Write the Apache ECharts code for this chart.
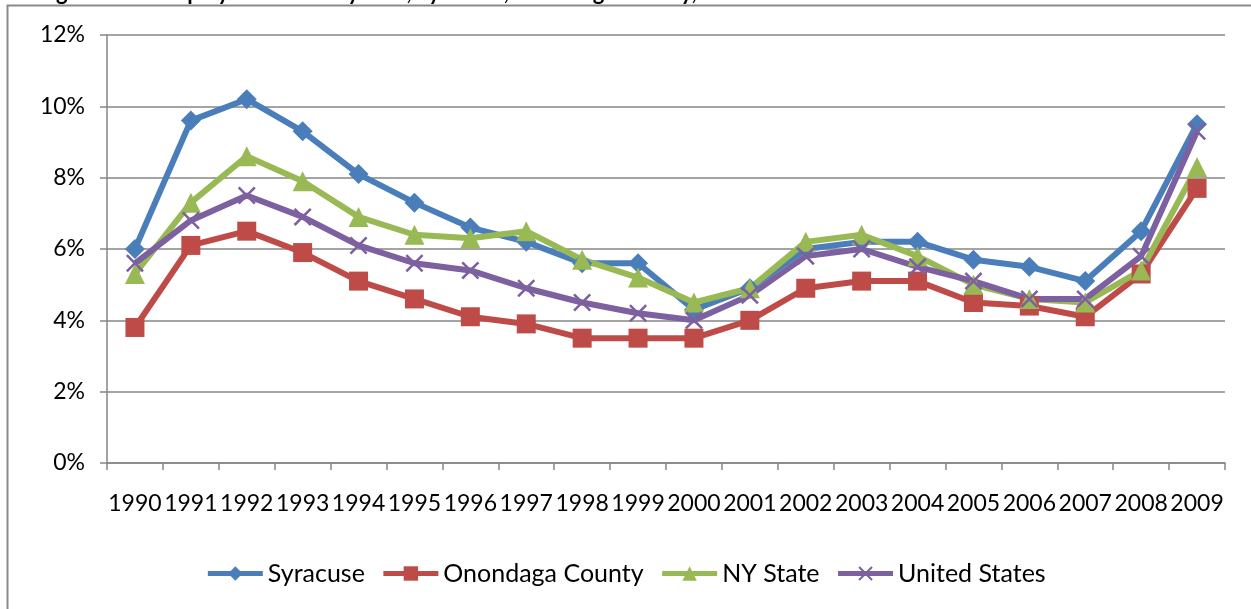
<!DOCTYPE html>
<html>
<head>
<meta charset="utf-8">
<script src="https://cdn.jsdelivr.net/npm/echarts@6/dist/echarts.min.js"></script>
<style>
  html, body { margin: 0; padding: 0; background: #fff; }
  #chart { width: 1251px; height: 609px; }
</style>
</head>
<body>
<div id="chart"></div>
<script>
// Annual unemployment rates (%), 1990-2009
const years = ['1990','1991','1992','1993','1994','1995','1996','1997','1998','1999',
               '2000','2001','2002','2003','2004','2005','2006','2007','2008','2009'];
const syracuse = [6.0, 9.6, 10.2, 9.3, 8.1, 7.3, 6.6, 6.2, 5.6, 5.6,
                  4.3, 4.9, 6.0, 6.2, 6.2, 5.7, 5.5, 5.1, 6.5, 9.5];
const onondaga = [3.8, 6.1, 6.5, 5.9, 5.1, 4.6, 4.1, 3.9, 3.5, 3.5,
                  3.5, 4.0, 4.9, 5.1, 5.1, 4.5, 4.4, 4.1, 5.3, 7.7];
const nyState  = [5.3, 7.3, 8.6, 7.9, 6.9, 6.4, 6.3, 6.5, 5.7, 5.2,
                  4.5, 4.9, 6.2, 6.4, 5.8, 5.0, 4.6, 4.5, 5.4, 8.3];
const unitedStates = [5.6, 6.8, 7.5, 6.9, 6.1, 5.6, 5.4, 4.9, 4.5, 4.2,
                      4.0, 4.7, 5.8, 6.0, 5.5, 5.1, 4.6, 4.6, 5.8, 9.3];
const yTicks = [0, 2, 4, 6, 8, 10, 12];

const FONT = 'Lato, Carlito, "Open Sans", sans-serif';
const crossPath = 'path://M2,0L10,8L18,0L20,2L12,10L20,18L18,20L10,12L2,20L0,18L8,10L0,2Z';

function lineSeries(name, data, color, symbol, size) {
  return {
    name: name,
    type: 'line',
    data: data,
    symbol: symbol,
    symbolSize: size,
    showAllSymbol: true,
    lineStyle: { color: color, width: 6 },
    itemStyle: { color: color },
    emphasis: { disabled: true },
    z: 2
  };
}

const chart = echarts.init(document.getElementById('chart'), null, { renderer: 'canvas' });
chart.setOption({
  animation: false,
  backgroundColor: '#ffffff',
  textStyle: { fontFamily: FONT },
  graphic: [
    {
      type: 'rect',
      shape: { x: 7.5, y: 5.5, width: 1300, height: 700 },
      style: { fill: 'none', stroke: '#8a8a8a', lineWidth: 2 },
      silent: true, z: -1
    },
    {
      type: 'text',
      style: {
        x: 38, y: 4,
        text: 'Figure 2: Unemployment Rate by Year, Syracuse, Onondaga County, NY State and US',
        font: 'bold 22px ' + FONT,
        fill: '#000',
        verticalAlign: 'bottom'
      },
      silent: true
    }
  ],
  grid: { left: 107, right: 26, top: 35, bottom: 146, containLabel: false },
  legend: {
    data: ['Syracuse', 'Onondaga County', 'NY State', 'United States'],
    left: 'center',
    top: 556,
    itemWidth: 55,
    itemHeight: 18,
    itemGap: 16,
    lineStyle: { width: 5 },
    textStyle: { fontFamily: FONT, fontSize: 25, color: '#000' }
  },
  xAxis: {
    type: 'category',
    data: years,
    boundaryGap: true,
    axisLine: { lineStyle: { color: '#868686', width: 1.5 } },
    axisTick: { show: true, alignWithLabel: false, length: 7, lineStyle: { color: '#868686', width: 1.5 } },
    axisLabel: { interval: 0, margin: 29, color: '#000', fontSize: 23, fontFamily: FONT },
    splitLine: { show: false }
  },
  yAxis: {
    type: 'value',
    min: yTicks[0],
    max: yTicks[yTicks.length - 1],
    interval: 2,
    axisLine: { show: true, lineStyle: { color: '#868686', width: 1.5 } },
    axisTick: { show: true, length: 7, lineStyle: { color: '#868686', width: 1.5 } },
    axisLabel: { margin: 22, color: '#000', fontSize: 23, fontFamily: FONT, formatter: '{value}%' },
    splitLine: { show: true, lineStyle: { color: '#868686', width: 1.5 } }
  },
  series: [
    lineSeries('Syracuse', syracuse, '#4a7ebb', 'diamond', 20),
    lineSeries('Onondaga County', onondaga, '#be4b48', 'rect', 19),
    lineSeries('NY State', nyState, '#98b954', 'triangle', 20),
    lineSeries('United States', unitedStates, '#7d60a0', crossPath, 18)
  ]
});
</script>
</body>
</html>
